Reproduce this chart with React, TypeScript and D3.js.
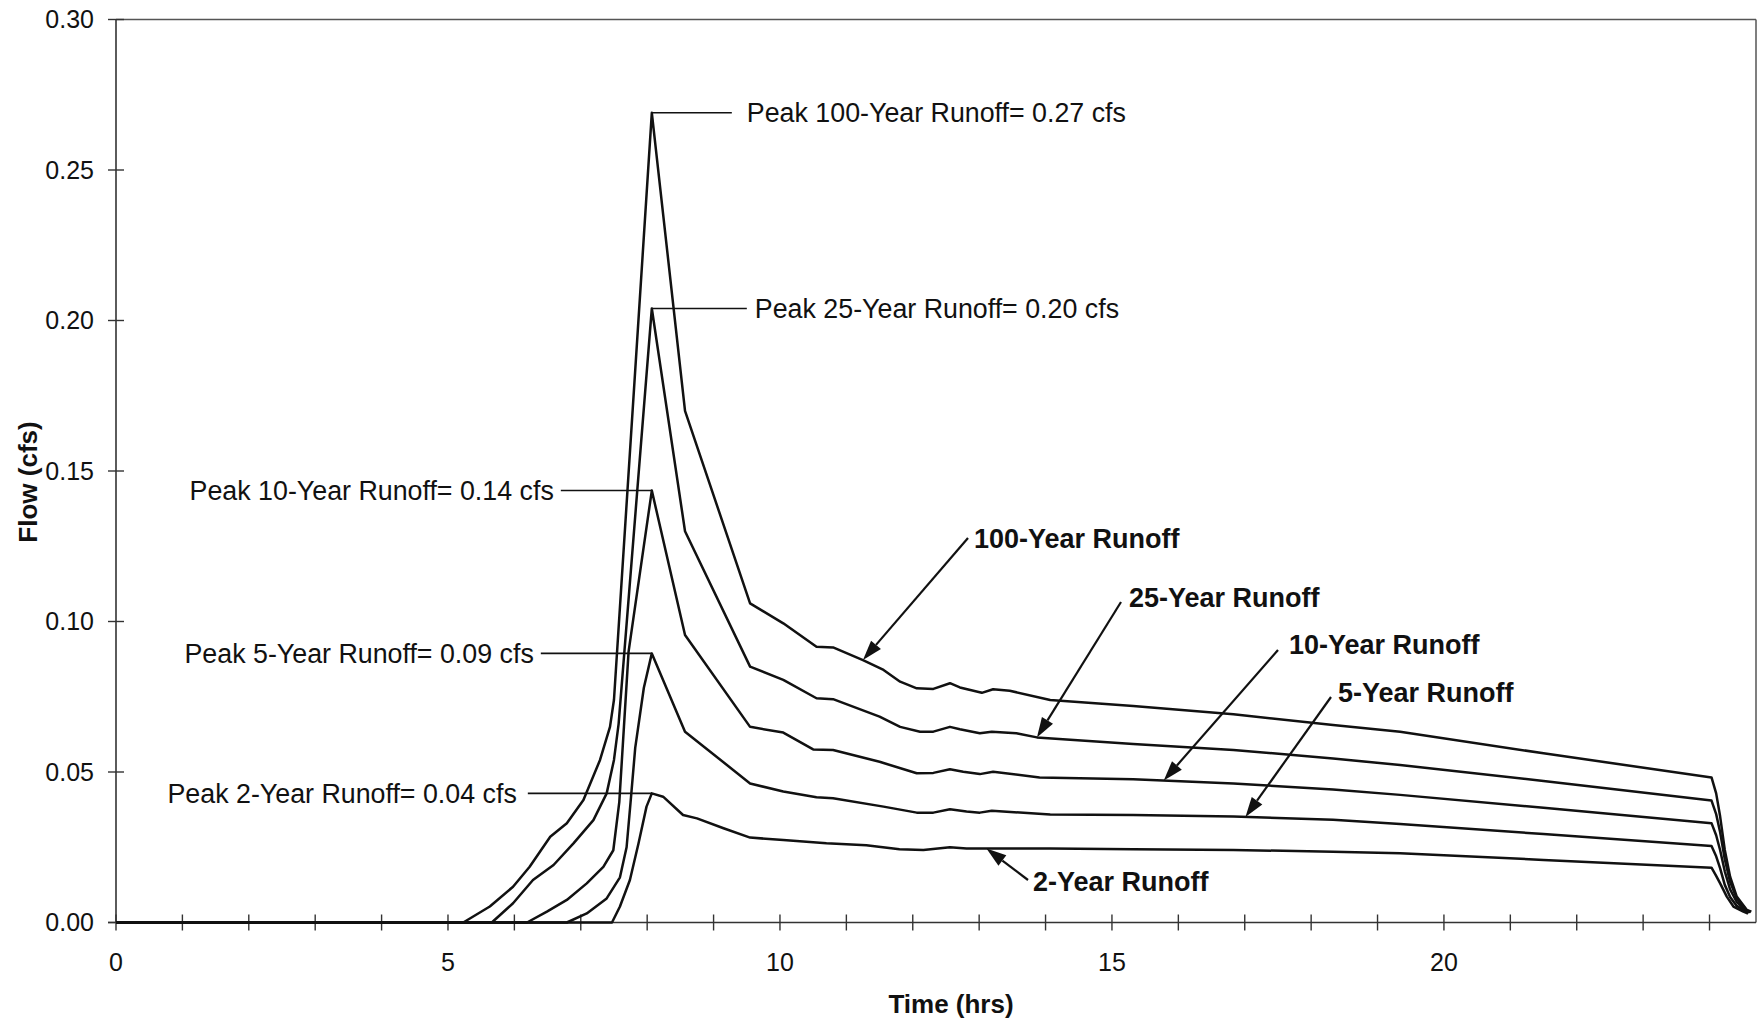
import React from 'react';
import * as d3 from 'd3';

const W = 1758;
const H = 1023;

// hydrograph points, [time (hrs), flow (cfs)]
const runoff100: [number, number][] = [
  [0, 0], [5.23, 0], [5.63, 0.0053], [5.98, 0.0119], [6.23, 0.0185], [6.54, 0.0285], [6.79, 0.033],
  [7.04, 0.0407], [7.29, 0.054], [7.44, 0.065], [7.5, 0.074], [8.07, 0.269], [8.57, 0.17],
  [9.55, 0.106], [10.05, 0.0994], [10.55, 0.0916], [10.8, 0.0914], [11.25, 0.0872], [11.56, 0.0839],
  [11.81, 0.08], [12.06, 0.0778], [12.31, 0.0776], [12.56, 0.0795], [12.71, 0.0781], [13.04, 0.0763],
  [13.21, 0.0775], [13.46, 0.077], [14.07, 0.0739], [15.32, 0.0719], [16.83, 0.0692], [18.33, 0.0656],
  [19.34, 0.0634], [21.5, 0.0562], [24.03, 0.0482], [24.1, 0.0429], [24.16, 0.0352], [24.23, 0.0241],
  [24.31, 0.0152], [24.41, 0.0086], [24.56, 0.0042], [24.63, 0.0036],
];
const runoff25: [number, number][] = [
  [0, 0], [5.66, 0], [5.98, 0.0064], [6.28, 0.0141], [6.59, 0.0191], [6.89, 0.0263], [7.19, 0.034],
  [7.39, 0.0429], [7.5, 0.054], [7.57, 0.066], [8.07, 0.204], [8.57, 0.13], [9.55, 0.085],
  [10.05, 0.0806], [10.55, 0.0745], [10.8, 0.0742], [11.5, 0.0684], [11.81, 0.065], [12.11, 0.0634],
  [12.31, 0.0634], [12.56, 0.065], [12.71, 0.0642], [13.01, 0.0629], [13.19, 0.0634], [13.56, 0.0629],
  [13.87, 0.0615], [15.32, 0.0593], [16.83, 0.0573], [18.33, 0.0545], [19.34, 0.0523], [21.5, 0.047],
  [24.03, 0.0405], [24.1, 0.036], [24.16, 0.03], [24.23, 0.021], [24.31, 0.0135], [24.41, 0.008],
  [24.56, 0.004], [24.62, 0.0035],
];
const runoff10: [number, number][] = [
  [0, 0], [6.19, 0], [6.49, 0.0036], [6.79, 0.0075], [7.09, 0.013], [7.34, 0.0185], [7.49, 0.024],
  [7.58, 0.04], [7.65, 0.065], [7.72, 0.09], [8.07, 0.1435], [8.57, 0.0955], [9.55, 0.065],
  [10.05, 0.0631], [10.5, 0.0575], [10.8, 0.0573], [11.5, 0.0534], [12.06, 0.0496], [12.31, 0.0497],
  [12.56, 0.0509], [12.76, 0.0501], [13.01, 0.0493], [13.21, 0.0501], [13.91, 0.0482], [15.32, 0.0476],
  [16.83, 0.0462], [18.33, 0.0442], [19.34, 0.0424], [21.5, 0.0381], [24.03, 0.033], [24.1, 0.029],
  [24.16, 0.024], [24.23, 0.017], [24.31, 0.011], [24.41, 0.0068], [24.56, 0.0038], [24.61, 0.0035],
];
const runoff5: [number, number][] = [
  [0, 0], [6.79, 0], [7.09, 0.003], [7.39, 0.008], [7.59, 0.015], [7.69, 0.025], [7.75, 0.04],
  [7.82, 0.058], [7.95, 0.078], [8.07, 0.0894], [8.57, 0.0634], [9.55, 0.0462], [10.05, 0.0435],
  [10.55, 0.0416], [10.8, 0.0413], [11.56, 0.0385], [12.06, 0.0365], [12.31, 0.0365], [12.56, 0.0376],
  [12.81, 0.0369], [13.01, 0.0365], [13.19, 0.0371], [14.07, 0.0359], [15.32, 0.0357], [16.83, 0.0352],
  [18.33, 0.0341], [19.34, 0.0327], [21.5, 0.0294], [24.03, 0.0254], [24.1, 0.022], [24.16, 0.018],
  [24.23, 0.0125], [24.31, 0.0085], [24.41, 0.0055], [24.56, 0.0036], [24.6, 0.0034],
];
const runoff2: [number, number][] = [
  [0, 0], [7.47, 0], [7.59, 0.0053], [7.74, 0.0141], [7.87, 0.0263], [7.99, 0.0385], [8.07, 0.0429],
  [8.24, 0.0418], [8.54, 0.0357], [8.75, 0.0346], [9.15, 0.0313], [9.55, 0.0282], [10.05, 0.0274],
  [10.7, 0.0263], [11.3, 0.0257], [11.8, 0.0243], [12.16, 0.0241], [12.56, 0.025], [12.81, 0.0246],
  [13.16, 0.0246], [14.07, 0.0246], [15.32, 0.0243], [16.83, 0.0241], [18.33, 0.0235], [19.34, 0.023],
  [21.5, 0.0208], [24.03, 0.0182], [24.1, 0.0155], [24.16, 0.013], [24.26, 0.0086], [24.36, 0.0053],
  [24.51, 0.0036], [24.58, 0.003],
];

const seriesData = [runoff100, runoff25, runoff10, runoff5, runoff2];
const seriesNames = ['100-Year Runoff', '25-Year Runoff', '10-Year Runoff', '5-Year Runoff', '2-Year Runoff'];
const peakLabels = [
  'Peak 100-Year Runoff= 0.27 cfs',
  'Peak 25-Year Runoff= 0.20 cfs',
  'Peak 10-Year Runoff= 0.14 cfs',
  'Peak 5-Year Runoff= 0.09 cfs',
  'Peak 2-Year Runoff= 0.04 cfs',
];
// time on each curve that the bold label's arrow points at
const arrowTipTimes = [11.25, 13.87, 15.78, 17.01, 13.11];

const yTicks = [0, 0.05, 0.1, 0.15, 0.2, 0.25, 0.3];
const xTicks = d3.range(0, 25);
const xLabelTicks = [0, 5, 10, 15, 20];

// annotation placement (pixels)
const peakSide = ['right', 'right', 'left', 'left', 'left'];
const peakLeaderLen = [80, 95, 91, 111, 124];
const peakTextGap = [15, 8, 7, 7, 11];
const nameLabelPos = [[974, 539], [1129, 598], [1289, 645], [1338, 693], [1033, 882]];
const arrowStart = [[968, 538], [1121, 602], [1278, 650], [1331, 697], [1028, 880]];

const FONT = '"Liberation Sans", Arial, Helvetica, sans-serif';

const x = d3.scaleLinear().domain([0, 24.7]).range([116, 1756]);
const y = d3.scaleLinear().domain([0, 0.3]).range([922.5, 19.5]);

const line = d3.line<[number, number]>()
  .x(d => x(d[0]))
  .y(d => y(d[1]));

const bisect = d3.bisector((d: [number, number]) => d[0]).left;
function valueAt(s: [number, number][], t: number) {
  const i = Math.max(1, Math.min(s.length - 1, bisect(s, t)));
  const a = s[i - 1], b = s[i];
  return a[1] + (b[1] - a[1]) * (t - a[0]) / (b[0] - a[0]);
}

function Arrow({ x1, y1, x2, y2 }: { x1: number; y1: number; x2: number; y2: number }) {
  const dx = x2 - x1, dy = y2 - y1;
  const len = Math.hypot(dx, dy);
  const ux = dx / len, uy = dy / len;
  const hl = 20, hw = 6.5;
  const bx = x2 - ux * hl, by = y2 - uy * hl;
  const pts = [
    [x2, y2],
    [bx - uy * hw, by + ux * hw],
    [bx + uy * hw, by - ux * hw],
  ].map(p => p.join(',')).join(' ');
  return (
    <g>
      <line x1={x1} y1={y1} x2={bx} y2={by} stroke="#111" strokeWidth={2.2} />
      <polygon points={pts} fill="#111" />
    </g>
  );
}

export default function App() {
  const [x0, x1] = x.range();
  const [yb, yt] = y.range();

  return (
    <svg width={W} height={H} viewBox={`0 0 ${W} ${H}`}
      style={{ position: 'absolute', left: 0, top: 0, background: '#fff', display: 'block' }}
      fontFamily={FONT}>
      <rect x={0} y={0} width={W} height={H} fill="#fff" />

      {/* plot border, top and right */}
      <line x1={x0} y1={yt} x2={x1} y2={yt} stroke="#555" strokeWidth={1.5} />
      <line x1={x1} y1={yt} x2={x1} y2={yb} stroke="#555" strokeWidth={1.5} />

      {/* y axis */}
      <line x1={x0} y1={yt} x2={x0} y2={yb} stroke="#333" strokeWidth={1.6} />
      {yTicks.map(v => (
        <g key={'y' + v}>
          <line x1={x0 - 8} x2={x0 + 8} y1={y(v)} y2={y(v)} stroke="#333" strokeWidth={1.4} />
          <text x={94} y={y(v)} dy="0.35em" textAnchor="end" fontSize={25} fill="#111">
            {d3.format('.2f')(v)}
          </text>
        </g>
      ))}

      {/* x axis */}
      <line x1={x0 - 8} y1={yb} x2={x1} y2={yb} stroke="#333" strokeWidth={1.6} />
      {xTicks.map(t => (
        <line key={'x' + t} x1={x(t)} x2={x(t)} y1={yb - 8} y2={yb + 8} stroke="#333" strokeWidth={1.4} />
      ))}
      {xLabelTicks.map(t => (
        <text key={'xl' + t} x={x(t)} y={971} textAnchor="middle" fontSize={25} fill="#111">{t}</text>
      ))}

      <text x={951} y={1013} textAnchor="middle" fontSize={26} fontWeight="bold" fill="#111">Time (hrs)</text>
      <text transform="translate(37,482) rotate(-90)" textAnchor="middle" fontSize={26} fontWeight="bold" fill="#111">
        Flow (cfs)
      </text>

      {/* hydrographs */}
      {seriesData.map((s, i) => (
        <path key={seriesNames[i]} d={line(s) || ''} fill="none" stroke="#111" strokeWidth={2.5}
          strokeLinejoin="round" />
      ))}

      {/* peak callouts */}
      {seriesData.map((s, i) => {
        const pk = d3.greatest(s, d => d[1])!;
        const px = x(pk[0]);
        const py = y(pk[1]);
        const right = peakSide[i] === 'right';
        const lx = right ? px + peakLeaderLen[i] : px - peakLeaderLen[i];
        const tx = right ? lx + peakTextGap[i] : lx - peakTextGap[i];
        return (
          <g key={'pk' + i}>
            <line x1={px} y1={py} x2={lx} y2={py} stroke="#111" strokeWidth={1.6} />
            <text x={tx} y={py} dy="0.35em" textAnchor={right ? 'start' : 'end'} fontSize={26.8} fill="#111">
              {peakLabels[i]}
            </text>
          </g>
        );
      })}

      {/* series name labels with arrows */}
      {seriesData.map((s, i) => {
        const tt = arrowTipTimes[i];
        const tipX = x(tt);
        const tipY = y(valueAt(s, tt));
        return (
          <g key={'nm' + i}>
            <Arrow x1={arrowStart[i][0]} y1={arrowStart[i][1]} x2={tipX} y2={tipY} />
            <text x={nameLabelPos[i][0]} y={nameLabelPos[i][1]} dy="0.35em" fontSize={27}
              fontWeight="bold" fill="#111">
              {seriesNames[i]}
            </text>
          </g>
        );
      })}
    </svg>
  );
}
